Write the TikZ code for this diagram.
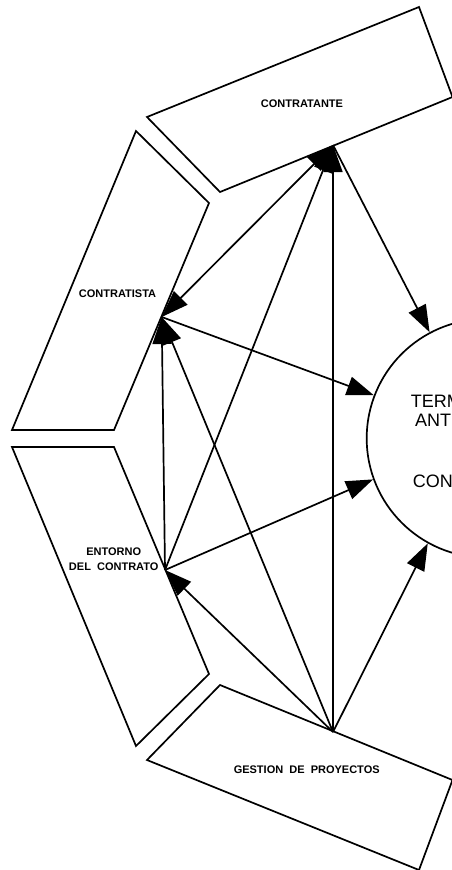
\documentclass[tikz,border=0pt]{standalone}
\usepackage{fontspec}
\setmainfont{Liberation Sans}[WordSpace=2]
\usetikzlibrary{arrows.meta}
\begin{document}
\begin{tikzpicture}[x=1pt,y=-1pt,
  outline/.style={draw=black,line width=1.7pt,line join=miter},
  lbl/.style={font=\bfseries\fontsize{11}{15}\selectfont,align=center,inner sep=0pt},
  bigtxt/.style={font=\fontsize{18}{20}\selectfont,inner sep=0pt,anchor=west},
  >={Triangle[length=27pt,width=19pt]},
  link/.style={line width=1.7pt,->},
  link2/.style={line width=1.7pt,<->}]

% page area
\clip (0,0) rectangle (452,870);
\fill[white] (0,0) rectangle (452,870);

% the four party blocks around the central circle
\draw[outline] (147,117) -- (419,7) -- (452.5,97) -- (220,192) -- cycle;
\draw[outline] (136,131) -- (209,203) -- (114,430) -- (12,430) -- cycle;
\draw[outline] (12,447) -- (114,447) -- (209,674) -- (136,746) -- cycle;
\draw[outline] (220,685) -- (452.5,780) -- (419,870) -- (147,760) -- cycle;

% block labels
\node[lbl] (ct) at (302,104) {CONTRATANTE};
\node[lbl] (cs) at (117.5,293.3) {CONTRATISTA};
\node[lbl] (en) at (113.7,559) {ENTORNO\\DEL CONTRATO};
\node[lbl] (gp) at (306.7,770) {GESTION DE PROYECTOS};

% central circle
\node[draw=black,line width=1.7pt,circle,minimum size=238.6pt,inner sep=0pt] (term) at (486,438.3) {};
\node[bigtxt] (t1) at (410.7,401.5) {TERMINACION};
\node[bigtxt] (t2) at (415,420) {ANTICIPADA};
\node[bigtxt] (t3) at (412.7,481.5) {CONTRATO};

% connection points on the blocks
\coordinate (hubCT) at (333,145);
\coordinate (hubCS) at (161.7,317);
\coordinate (hubEN) at (165,570);
\coordinate (hubGP) at (333,732);

% relations
\draw[link2] (hubCT) -- (hubCS);
\draw[link] (hubCT) -- (term.118.4);
\draw[link] (hubEN) -- (hubCT);
\draw[link] (hubGP) -- (hubCT);
\draw[link] (hubCS) -- (term.159.6);
\draw[link] (hubEN) -- (hubCS);
\draw[link] (hubGP) -- (hubCS);
\draw[link] (hubEN) -- (term.200.4);
\draw[link] (hubGP) -- (hubEN);
\draw[link] (hubGP) -- (term.241.6);
\end{tikzpicture}
\end{document}
